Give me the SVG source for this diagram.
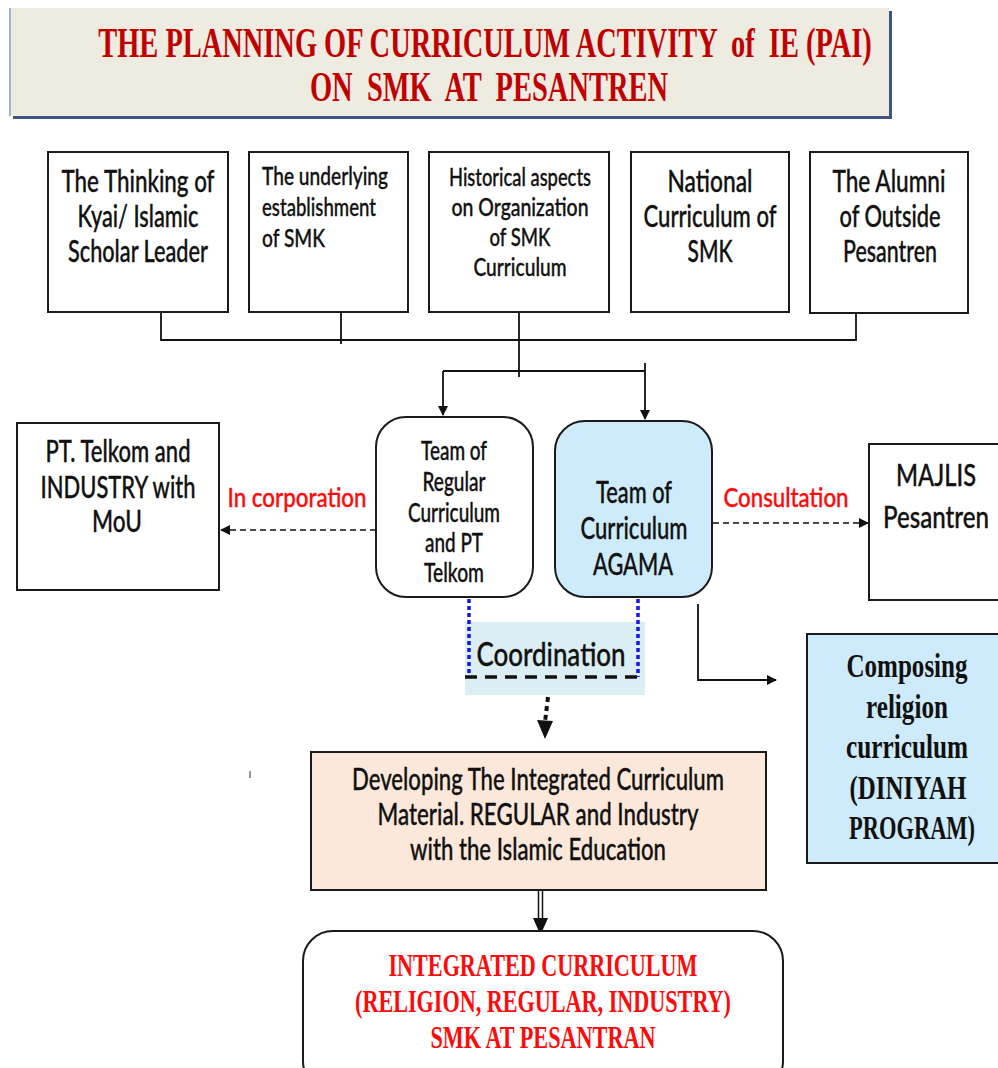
<svg xmlns="http://www.w3.org/2000/svg" width="998" height="1068" viewBox="0 0 998 1068">
<defs>
<style>
.box{fill:#fff;stroke:#1a1a1a;stroke-width:2}
.sans{font-family:Lato,"Open Sans","Liberation Sans",sans-serif;font-weight:500;fill:#111;stroke:#111;stroke-width:0.35;text-anchor:middle}
.serif{font-family:"Liberation Serif","Times New Roman",serif;font-weight:bold;text-anchor:middle}
.red{fill:#ff0a0a;stroke:#ff0a0a}
.line{fill:none;stroke:#111;stroke-width:1.8}
.dash{fill:none;stroke:#111;stroke-width:1.6;stroke-dasharray:6 4}
.blue{fill:none;stroke:#1515ee;stroke-width:3.5;stroke-dasharray:4 3}
</style>
<marker id="ah" markerWidth="10" markerHeight="10" refX="9" refY="5" orient="auto" markerUnits="userSpaceOnUse">
<path d="M0,0 L10,5 L0,10 Z" fill="#111"/>
</marker>
</defs>
<rect width="998" height="1068" fill="#fff"/>

<g id="title">
<rect x="13" y="11" width="879" height="108" fill="#3c5680"/>
<rect x="10" y="8" width="879" height="108" fill="#eeebe1"/>
<line x1="10" y1="8" x2="10" y2="116" stroke="#9cb6d6" stroke-width="2"/>
<text class="serif" transform="translate(485 0) scale(0.672 1)" x="0" y="57" font-size="42" fill="#c00000" textLength="1151" lengthAdjust="spacingAndGlyphs" xml:space="preserve">THE PLANNING OF CURRICULUM ACTIVITY  of  IE (PAI)</text>
<text class="serif" transform="translate(489 0) scale(0.672 1)" x="0" y="101" font-size="42" fill="#c00000" textLength="533" lengthAdjust="spacingAndGlyphs" xml:space="preserve">ON  SMK  AT  PESANTREN</text>
</g>

<g id="connectors">
<polyline class="line" points="161,312 161,340 856,340 856,313"/>
<line class="line" x1="341" y1="312" x2="341" y2="344"/>
<line class="line" x1="519" y1="312" x2="519" y2="377"/>
<line class="line" x1="443" y1="371" x2="645" y2="371"/>
<line class="line" x1="645" y1="363" x2="645" y2="371"/>
<line class="line" x1="443" y1="371" x2="443" y2="415" marker-end="url(#ah)"/>
<line class="line" x1="645" y1="371" x2="645" y2="419" marker-end="url(#ah)"/>
<line class="dash" x1="376" y1="530" x2="221" y2="530" marker-end="url(#ah)"/>
<line class="dash" x1="713" y1="523" x2="868" y2="523" marker-end="url(#ah)"/>
<polyline class="line" points="698,604 698,680 776,680" marker-end="url(#ah)"/>
<line x1="548" y1="697" x2="545" y2="722" stroke="#111" stroke-width="4" stroke-dasharray="5 4"/>
<polygon points="537,720 553,721 545,739" fill="#111"/>
<line x1="538.5" y1="883" x2="538.5" y2="920" stroke="#111" stroke-width="1.5"/>
<line x1="542.5" y1="883" x2="542.5" y2="920" stroke="#111" stroke-width="1.5"/>
<polygon points="533,918 548,918 540.5,935" fill="#111"/>
</g>

<g id="node-thinking">
<rect class="box" x="48" y="152" width="180" height="160"/>
<text class="sans" font-size="31" transform="translate(138 0) scale(0.72 1)"><tspan x="0" y="192" textLength="212.5" lengthAdjust="spacingAndGlyphs">The Thinking of</tspan><tspan x="0" y="227" textLength="168" lengthAdjust="spacingAndGlyphs">Kyai/ Islamic</tspan><tspan x="0" y="262" textLength="194.4" lengthAdjust="spacingAndGlyphs">Scholar Leader</tspan></text>
</g>

<g id="node-underlying">
<rect class="box" x="249" y="152" width="159" height="160"/>
<text class="sans" font-size="25" style="text-anchor:start" transform="translate(262 0) scale(0.72 1)"><tspan x="0" y="185" textLength="175" lengthAdjust="spacingAndGlyphs">The underlying</tspan><tspan x="0" y="216" textLength="158.3" lengthAdjust="spacingAndGlyphs">establishment</tspan><tspan x="0" y="247" textLength="87.5" lengthAdjust="spacingAndGlyphs">of SMK</tspan></text>
</g>

<g id="node-historical">
<rect class="box" x="429" y="152" width="180" height="160"/>
<text class="sans" font-size="25" transform="translate(520 0) scale(0.72 1)"><tspan x="0" y="186" textLength="197.2" lengthAdjust="spacingAndGlyphs">Historical aspects</tspan><tspan x="0" y="216" textLength="190.3" lengthAdjust="spacingAndGlyphs">on Organization</tspan><tspan x="0" y="246" textLength="84.7" lengthAdjust="spacingAndGlyphs">of SMK</tspan><tspan x="0" y="276" textLength="129.2" lengthAdjust="spacingAndGlyphs">Curriculum</tspan></text>
</g>

<g id="node-national">
<rect class="box" x="631" y="152" width="158" height="160"/>
<text class="sans" font-size="31" transform="translate(710 0) scale(0.72 1)"><tspan x="0" y="192" textLength="118" lengthAdjust="spacingAndGlyphs">National</tspan><tspan x="0" y="227" textLength="184.7" lengthAdjust="spacingAndGlyphs">Curriculum of</tspan><tspan x="0" y="262" textLength="62.5" lengthAdjust="spacingAndGlyphs">SMK</tspan></text>
</g>

<g id="node-alumni">
<rect class="box" x="810" y="152" width="158" height="161"/>
<text class="sans" font-size="31" transform="translate(890 0) scale(0.72 1)"><tspan x="-1.4" y="192" textLength="157" lengthAdjust="spacingAndGlyphs">The Alumni</tspan><tspan x="0" y="227" textLength="140.3" lengthAdjust="spacingAndGlyphs">of Outside</tspan><tspan x="0" y="262" textLength="130.6" lengthAdjust="spacingAndGlyphs">Pesantren</tspan></text>
</g>

<g id="node-telkom">
<rect class="box" x="17" y="423" width="202" height="167"/>
<text class="sans" font-size="30" transform="translate(118 0) scale(0.72 1)"><tspan x="0" y="462" textLength="201.4" lengthAdjust="spacingAndGlyphs">PT. Telkom and</tspan><tspan x="0" y="498" textLength="215.3" lengthAdjust="spacingAndGlyphs">INDUSTRY with</tspan><tspan x="-1.4" y="532" textLength="69.4" lengthAdjust="spacingAndGlyphs">MoU</tspan></text>
</g>

<g id="label-incorporation">
<text class="sans red" font-size="27" transform="translate(297 0) scale(0.72 1)" x="0" y="507" textLength="193" lengthAdjust="spacingAndGlyphs">In corporation</text>
</g>

<g id="node-team-regular">
<rect class="box" x="376" y="417" width="157" height="180" rx="30" ry="30"/>
<text class="sans" font-size="26" transform="translate(454 0) scale(0.72 1)"><tspan x="0" y="460" textLength="91.7" lengthAdjust="spacingAndGlyphs">Team of</tspan><tspan x="0" y="491" textLength="87.5" lengthAdjust="spacingAndGlyphs">Regular</tspan><tspan x="0" y="522" textLength="127.8" lengthAdjust="spacingAndGlyphs">Curriculum</tspan><tspan x="0" y="552" textLength="80.6" lengthAdjust="spacingAndGlyphs">and PT</tspan><tspan x="0" y="582" textLength="83.3" lengthAdjust="spacingAndGlyphs">Telkom</tspan></text>
</g>

<g id="node-team-agama">
<rect x="555" y="421" width="157" height="176" rx="30" ry="30" fill="#cdebfb" stroke="#1a1a1a" stroke-width="2"/>
<text class="sans" font-size="31" transform="translate(634 0) scale(0.72 1)"><tspan x="0" y="503" textLength="105.6" lengthAdjust="spacingAndGlyphs">Team of</tspan><tspan x="0" y="539" textLength="148.6" lengthAdjust="spacingAndGlyphs">Curriculum</tspan><tspan x="-1.4" y="575" textLength="111.1" lengthAdjust="spacingAndGlyphs">AGAMA</tspan></text>
</g>

<g id="label-consultation">
<text class="sans red" font-size="27" transform="translate(786 0) scale(0.72 1)" x="0" y="507" textLength="173.6" lengthAdjust="spacingAndGlyphs">Consultation</text>
</g>

<g id="node-majlis">
<rect class="box" x="869" y="444" width="135" height="156"/>
<text class="sans" font-size="31" transform="translate(936 0) scale(0.72 1)"><tspan x="0" y="486" textLength="111.1" lengthAdjust="spacingAndGlyphs">MAJLIS</tspan><tspan x="0" y="528" textLength="147.2" lengthAdjust="spacingAndGlyphs">Pesantren</tspan></text>
</g>

<g id="node-coordination">
<rect x="465" y="622" width="180" height="73" fill="#daeef3"/>
<line class="blue" x1="469" y1="599" x2="469" y2="677"/>
<line class="blue" x1="638" y1="599" x2="638" y2="677"/>
<line x1="465" y1="677" x2="645" y2="677" stroke="#111" stroke-width="3.5" stroke-dasharray="12 8"/>
<text class="sans" font-size="33" transform="translate(551 0) scale(0.72 1)" x="0" y="666" textLength="207" lengthAdjust="spacingAndGlyphs">Coordination</text>
</g>

<g id="node-composing">
<rect x="807" y="634" width="195" height="229" fill="#cdebfb" stroke="#1a1a1a" stroke-width="2"/>
<text class="serif" font-size="33" fill="#111" transform="translate(907 0) scale(0.76 1)"><tspan x="0" y="677" textLength="159.2" lengthAdjust="spacingAndGlyphs">Composing</tspan><tspan x="0" y="718" textLength="107.9" lengthAdjust="spacingAndGlyphs">religion</tspan><tspan x="0" y="758" textLength="160.5" lengthAdjust="spacingAndGlyphs">curriculum</tspan><tspan x="1.3" y="799" textLength="153.9" lengthAdjust="spacingAndGlyphs">(DINIYAH</tspan><tspan x="6.6" y="839" textLength="165.8" lengthAdjust="spacingAndGlyphs">PROGRAM)</tspan></text>
</g>

<g id="mark">
<line x1="250" y1="771" x2="250" y2="778" stroke="#555" stroke-width="1.2"/>
</g>

<g id="node-developing">
<rect x="311" y="752" width="455" height="138" fill="#fce8da" stroke="#1a1a1a" stroke-width="2"/>
<text class="sans" font-size="30" transform="translate(538 0) scale(0.72 1)"><tspan x="0" y="790" textLength="516.7" lengthAdjust="spacingAndGlyphs">Developing The Integrated Curriculum</tspan><tspan x="0" y="825" textLength="445.8" lengthAdjust="spacingAndGlyphs">Material. REGULAR and Industry</tspan><tspan x="0" y="860" textLength="355.6" lengthAdjust="spacingAndGlyphs">with the Islamic Education</tspan></text>
</g>

<g id="node-integrated">
<rect class="box" x="303" y="931" width="480" height="160" rx="30" ry="30"/>
<text class="serif red" font-size="31" style="stroke:none" transform="translate(543 0) scale(0.72 1)"><tspan x="0" y="976" textLength="429.2" lengthAdjust="spacingAndGlyphs">INTEGRATED CURRICULUM</tspan><tspan x="0" y="1012" textLength="522.2" lengthAdjust="spacingAndGlyphs">(RELIGION, REGULAR, INDUSTRY)</tspan><tspan x="0" y="1048" textLength="312.5" lengthAdjust="spacingAndGlyphs">SMK AT PESANTRAN</tspan></text>
</g>
</svg>
